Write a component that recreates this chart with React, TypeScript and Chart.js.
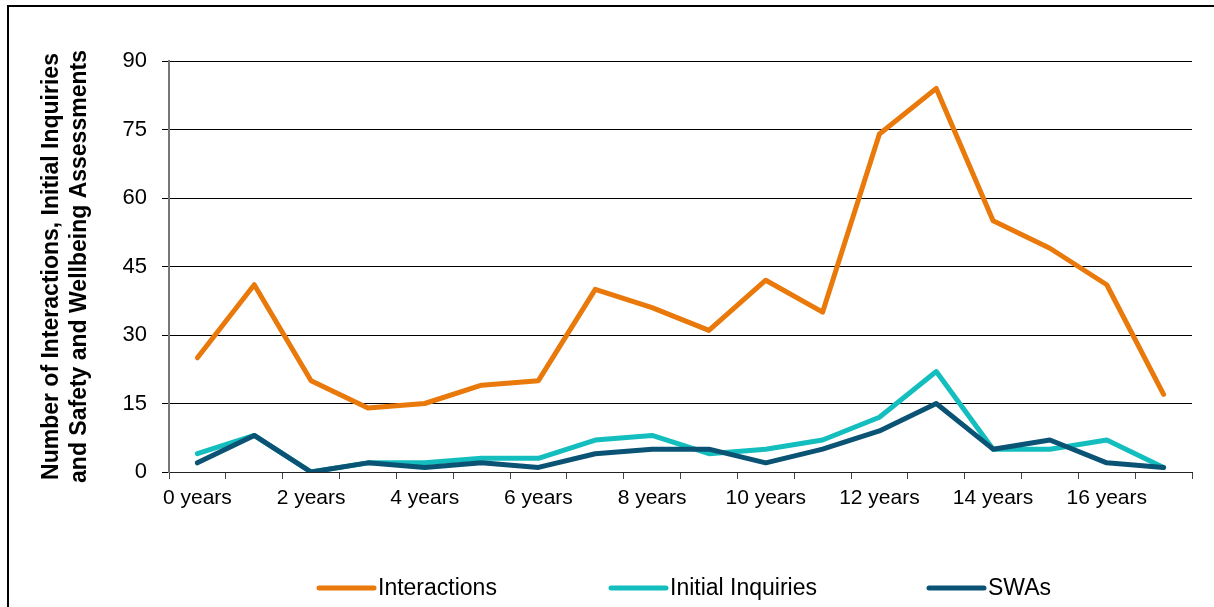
import React, { useEffect, useRef } from "react";
import { Chart, registerables } from "chart.js";

Chart.register(...registerables);

const categories = [
  "0 years", "1 years", "2 years", "3 years", "4 years", "5 years",
  "6 years", "7 years", "8 years", "9 years", "10 years", "11 years",
  "12 years", "13 years", "14 years", "15 years", "16 years", "17 years",
];
const interactions = [25, 41, 20, 14, 15, 19, 20, 40, 36, 31, 42, 35, 74, 84, 55, 49, 41, 17];
const initialInquiries = [4, 8, 0, 2, 2, 3, 3, 7, 8, 4, 5, 7, 12, 22, 5, 5, 7, 1];
const swas = [2, 8, 0, 2, 1, 2, 1, 4, 5, 5, 2, 5, 9, 15, 5, 7, 2, 1];
const seriesNames = ["Interactions", "Initial Inquiries", "SWAs"];
const yTitle = ["Number of Interactions, Initial Inquiries", "and Safety and Wellbeing Assessments"];

const COLORS = ["#E8790A", "#14BEBE", "#0B5374"];
const FONT = "'Liberation Sans', Arial, sans-serif";

const legendPlugin = {
  id: "customLegend",
  afterDraw(chart: any) {
    const ctx = chart.ctx;
    const xs = [319, 611, 929];
    const y = 588;
    ctx.save();
    chart.data.datasets.forEach((ds: any, i: number) => {
      ctx.beginPath();
      ctx.lineWidth = 5;
      ctx.lineCap = "round";
      ctx.strokeStyle = ds.borderColor;
      ctx.moveTo(xs[i], y);
      ctx.lineTo(xs[i] + 55, y);
      ctx.stroke();
      ctx.fillStyle = "#000";
      ctx.font = `23px ${FONT}`;
      ctx.textBaseline = "middle";
      ctx.textAlign = "left";
      ctx.fillText(ds.label, xs[i] + 59, y + 1);
    });
    ctx.restore();
  },
};

export default function App() {
  const ref = useRef<HTMLCanvasElement | null>(null);
  useEffect(() => {
    if (!ref.current) return;
    const chart = new Chart(ref.current, {
      type: "line",
      data: {
        labels: categories,
        datasets: [
          { label: seriesNames[0], data: interactions, borderColor: COLORS[0], backgroundColor: COLORS[0], order: 2 },
          { label: seriesNames[1], data: initialInquiries, borderColor: COLORS[1], backgroundColor: COLORS[1], order: 1 },
          { label: seriesNames[2], data: swas, borderColor: COLORS[2], backgroundColor: COLORS[2], order: 0 },
        ].map((d) => ({
          ...d,
          borderWidth: 5,
          pointRadius: 0,
          pointHoverRadius: 0,
          tension: 0,
          borderCapStyle: "round" as const,
          borderJoinStyle: "round" as const,
          fill: false,
        })),
      },
      options: {
        responsive: false,
        animation: false,
        devicePixelRatio: 1,
        layout: { padding: { left: 0, right: 22, top: 61, bottom: 0 } },
        plugins: {
          legend: { display: false },
          tooltip: { enabled: false },
          title: { display: false },
        },
        scales: {
          x: {
            type: "category",
            offset: true,
            grid: {
              drawOnChartArea: false,
              offset: true,
              drawTicks: true,
              tickLength: 7,
              color: "#444",
              lineWidth: 1,
            },
            border: { display: true, color: "#222", width: 1 },
            ticks: {
              autoSkip: false,
              maxRotation: 0,
              minRotation: 0,
              padding: 7,
              color: "#000",
              font: { family: FONT, size: 21 },
              callback: function (this: any, _v: any, index: number) {
                return index % 2 === 0 ? categories[index] : "";
              },
            },
            afterFit: (scale: any) => {
              scale.height = 135;
            },
          },
          y: {
            min: 0,
            max: 90,
            grid: {
              color: "#000",
              lineWidth: 1,
              drawTicks: true,
              tickLength: 7,
            },
            border: { display: true, color: "#777", width: 2 },
            ticks: {
              stepSize: 15,
              padding: 15,
              color: "#000",
              font: { family: FONT, size: 22 },
            },
            title: {
              display: true,
              text: yTitle,
              color: "#000",
              font: { family: FONT, size: 23, weight: "bold", lineHeight: 28 / 23 },
              padding: { top: 38, bottom: 0 },
            },
            afterFit: (scale: any) => {
              scale.width = 169;
            },
          },
        },
      },
      plugins: [legendPlugin],
    });
    return () => chart.destroy();
  }, []);

  return (
    <div style={{ position: "absolute", left: 0, top: 0, width: 1214, height: 607, overflow: "hidden", background: "#fff" }}>
      <div
        style={{
          position: "absolute",
          left: 7,
          top: 5,
          width: 1400,
          height: 800,
          borderLeft: "2px solid #000",
          borderTop: "2px solid #000",
        }}
      />
      <canvas ref={ref} width={1214} height={607} style={{ position: "absolute", left: 0, top: 0, width: 1214, height: 607 }} />
    </div>
  );
}
